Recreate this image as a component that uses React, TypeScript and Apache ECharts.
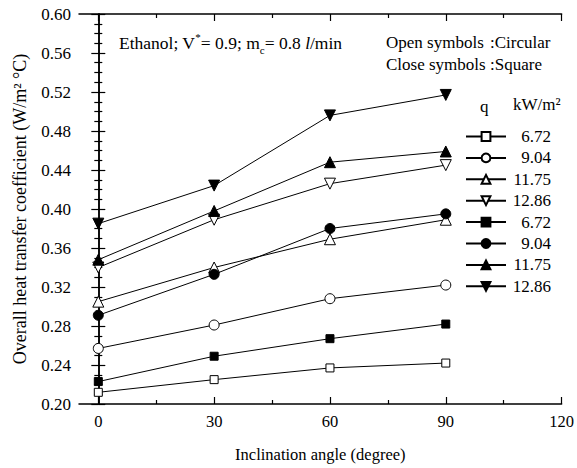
import React, { useEffect, useRef } from "react";
import * as echarts from "echarts";

const angles = [0, 30, 60, 90];
const openQ672 = [0.212, 0.225, 0.237, 0.242];
const openQ904 = [0.257, 0.281, 0.308, 0.322];
const openQ1175 = [0.305, 0.340, 0.369, 0.389];
const openQ1286 = [0.340, 0.389, 0.426, 0.445];
const closeQ672 = [0.223, 0.249, 0.267, 0.282];
const closeQ904 = [0.291, 0.333, 0.380, 0.395];
const closeQ1175 = [0.348, 0.398, 0.448, 0.459];
const closeQ1286 = [0.385, 0.424, 0.496, 0.517];

const xMajorTicks = [0, 30, 60, 90, 120];
const xMinorTicks = [15, 45, 75, 105];

const FONT = "Times New Roman";

type Def = { name: string; data: number[]; symbol: string; rotate: number; open: boolean; size: number };

const defs: Def[] = [
  { name: "o|6.72", data: openQ672, symbol: "rect", rotate: 0, open: true, size: 8 },
  { name: "o|9.04", data: openQ904, symbol: "circle", rotate: 0, open: true, size: 10 },
  { name: "o|11.75", data: openQ1175, symbol: "triangle", rotate: 0, open: true, size: 11 },
  { name: "o|12.86", data: openQ1286, symbol: "triangle", rotate: 180, open: true, size: 11 },
  { name: "c|6.72", data: closeQ672, symbol: "rect", rotate: 0, open: false, size: 8 },
  { name: "c|9.04", data: closeQ904, symbol: "circle", rotate: 0, open: false, size: 10 },
  { name: "c|11.75", data: closeQ1175, symbol: "triangle", rotate: 0, open: false, size: 11 },
  { name: "c|12.86", data: closeQ1286, symbol: "triangle", rotate: 180, open: false, size: 11 },
];

export default function App() {
  const ref = useRef<HTMLDivElement>(null);
  useEffect(() => {
    if (!ref.current) return;
    document.body.style.margin = "0";
    const chart = echarts.init(ref.current, null, { renderer: "svg" });
    const axisLine = { show: true, lineStyle: { color: "#000", width: 1.5 } };
    const tickStyle = { color: "#000", width: 1.2 };
    const option: any = {
      animation: false,
      backgroundColor: "#fff",
      textStyle: { fontFamily: FONT, color: "#000" },
      grid: { left: 79, right: 12, top: 14, bottom: 58 },
      xAxis: [
        {
          type: "value",
          min: -5,
          max: 120,
          position: "bottom",
          axisLine,
          axisTick: { show: true, inside: true, length: 7, customValues: xMajorTicks, lineStyle: tickStyle },
          axisLabel: { show: true, customValues: xMajorTicks, margin: 9, fontSize: 16.5, fontFamily: FONT, color: "#000" },
          splitLine: { show: false },
          name: "Inclination angle (degree)",
          nameLocation: "middle",
          nameGap: 42,
          nameTextStyle: { fontSize: 16.5, fontFamily: FONT, color: "#000" },
        },
        {
          type: "value",
          min: -5,
          max: 120,
          position: "bottom",
          axisLine: { show: false },
          axisTick: { show: true, inside: true, length: 4, customValues: xMinorTicks, lineStyle: tickStyle },
          axisLabel: { show: false },
          splitLine: { show: false },
        },
        {
          type: "value",
          min: -5,
          max: 120,
          position: "top",
          axisLine,
          axisTick: { show: true, inside: true, length: 7, customValues: xMajorTicks, lineStyle: tickStyle },
          axisLabel: { show: false },
          splitLine: { show: false },
        },
        {
          type: "value",
          min: -5,
          max: 120,
          position: "top",
          axisLine: { show: false },
          axisTick: { show: true, inside: true, length: 4, customValues: xMinorTicks, lineStyle: tickStyle },
          axisLabel: { show: false },
          splitLine: { show: false },
        },
      ],
      yAxis: [
        {
          type: "value",
          min: 0.2,
          max: 0.6,
          interval: 0.04,
          position: "left",
          axisLine,
          axisTick: { show: true, inside: true, length: 7, lineStyle: tickStyle },
          minorTick: { show: true, splitNumber: 4, length: 4, lineStyle: tickStyle },
          axisLabel: { show: true, margin: 8, fontSize: 17, fontFamily: FONT, color: "#000", formatter: (v: number) => v.toFixed(2) },
          splitLine: { show: false },
          name: "Overall heat transfer coefficient (W/m² °C)",
          nameLocation: "middle",
          nameGap: 50,
          nameTextStyle: { fontSize: 18, fontFamily: FONT, color: "#000" },
        },
        {
          type: "value",
          min: 0.2,
          max: 0.6,
          interval: 0.04,
          position: "right",
          axisLine,
          axisTick: { show: true, inside: true, length: 7, lineStyle: tickStyle },
          minorTick: { show: true, splitNumber: 4, length: 4, lineStyle: tickStyle },
          axisLabel: { show: false },
          splitLine: { show: false },
        },
      ],
      legend: {
        orient: "vertical",
        left: 465,
        top: 128,
        itemWidth: 40,
        itemHeight: 11,
        itemGap: 4.4,
        padding: 0,
        data: defs.map((d) => d.name),
        formatter: (name: string) => `{t|${name.split("|")[1]}}`,
        textStyle: {
          fontFamily: FONT,
          color: "#000",
          fontSize: 17,
          rich: { t: { width: 40, align: "right", fontSize: 17, fontFamily: FONT, color: "#000", lineHeight: 18 } },
        },
      },
      series: defs.map((d) => ({
        type: "line",
        name: d.name,
        xAxisIndex: 0,
        yAxisIndex: 0,
        data: angles.map((a, i) => [a, d.data[i]]),
        symbol: d.symbol,
        symbolSize: d.size,
        symbolRotate: d.rotate,
        showAllSymbol: true,
        lineStyle: { color: "#000", width: 1 },
        itemStyle: { color: d.open ? "#fff" : "#000", borderColor: "#000", borderWidth: 1 },
        emphasis: { disabled: true },
      })),
      graphic: [
        {
          type: "text",
          left: 119,
          top: 31,
          style: {
            text: "{a|Ethanol; V}{sup|*}{a|= 0.9; m}{sub|c}{a|= 0.8 }{i|l}{a|/min}",
            fill: "#000",
            rich: {
              a: { fontSize: 17.5, fontFamily: FONT, fill: "#000", lineHeight: 24 },
              i: { fontSize: 17.5, fontFamily: FONT, fontStyle: "italic", fill: "#000", lineHeight: 24 },
              sup: { fontSize: 11, fontFamily: FONT, fill: "#000", lineHeight: 12, verticalAlign: "top" },
              sub: { fontSize: 11, fontFamily: FONT, fill: "#000", lineHeight: 12, verticalAlign: "bottom" },
            },
          },
        },
        {
          type: "text",
          left: 386,
          top: 34,
          style: { text: "Open symbols", fontSize: 17, fontFamily: FONT, fill: "#000" },
        },
        {
          type: "text",
          left: 490,
          top: 34,
          style: { text: ":Circular", fontSize: 17, fontFamily: FONT, fill: "#000" },
        },
        {
          type: "text",
          left: 386,
          top: 56,
          style: { text: "Close symbols", fontSize: 17, fontFamily: FONT, fill: "#000" },
        },
        {
          type: "text",
          left: 490,
          top: 56,
          style: { text: ":Square", fontSize: 17, fontFamily: FONT, fill: "#000" },
        },
        {
          type: "text",
          left: 480,
          top: 98,
          style: { text: "q", fontSize: 17, fontFamily: FONT, fill: "#000" },
        },
        {
          type: "text",
          left: 513,
          top: 96,
          style: { text: "kW/m²", fontSize: 17, fontFamily: FONT, fill: "#000" },
        },
      ],
    };
    chart.setOption(option);
    return () => chart.dispose();
  }, []);
  return <div ref={ref} style={{ width: 577, height: 468 }} />;
}
